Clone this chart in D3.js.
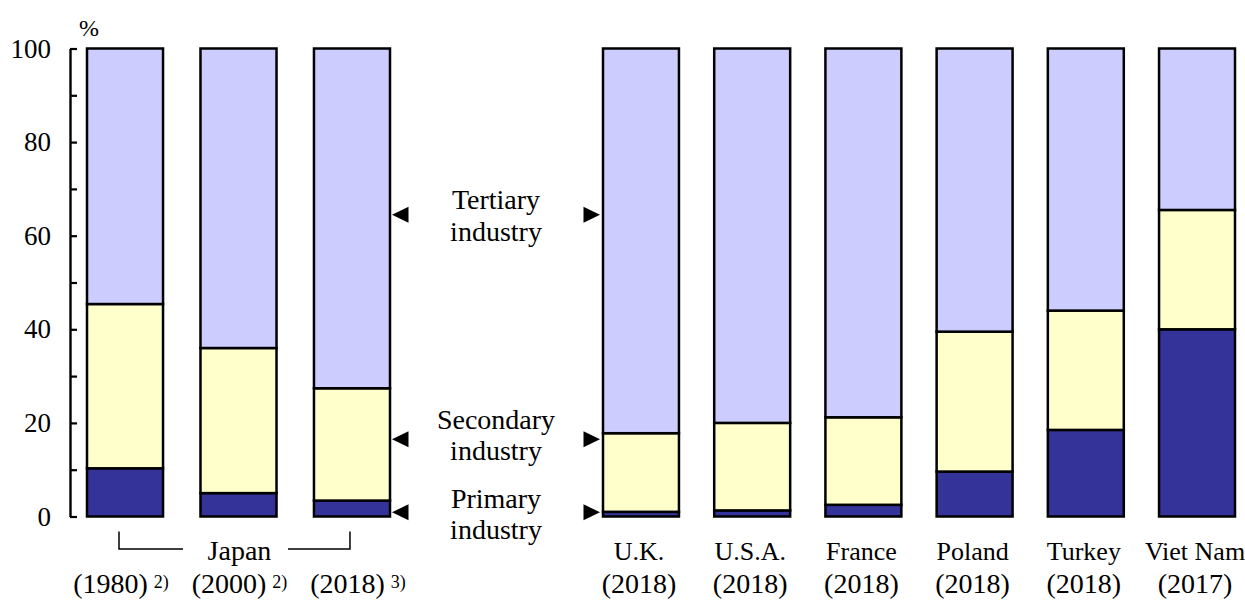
<!DOCTYPE html>
<html>
<head>
<meta charset="utf-8">
<script src="https://cdn.jsdelivr.net/npm/d3@7"></script>
<style>
  html, body { margin: 0; padding: 0; background: #fff; }
  svg { display: block; font-family: "Liberation Serif", "Times New Roman", serif; }
</style>
</head>
<body>
<script>
// Industry shares of employment (%), stacked: primary / secondary / tertiary
const japanYears = ["(1980)", "(2000)", "(2018)"];
const japanNotes = ["2)", "2)", "3)"];
const japanPrimary = [10.3, 5.0, 3.4];
const japanSecondary = [35.1, 31.0, 24.0];

const countryNames = ["U.K.", "U.S.A.", "France", "Poland", "Turkey", "Viet Nam"];
const countryYears = ["(2018)", "(2018)", "(2018)", "(2018)", "(2018)", "(2017)"];
const countryPrimary = [1.0, 1.3, 2.5, 9.6, 18.5, 40.0];
const countrySecondary = [16.8, 18.7, 18.7, 29.9, 25.5, 25.5];

const yTicks = [0, 10, 20, 30, 40, 50, 60, 70, 80, 90, 100];

const sectorKeys = ["primary", "secondary", "tertiary"];
const sectorLabels = [["Primary", "industry"], ["Secondary", "industry"], ["Tertiary", "industry"]];
const sectorMarks = [0.9, 16.5, 64.5]; // level each pointer indicates

const colors = { primary: "#333399", secondary: "#FFFFCC", tertiary: "#CCCCFF" };

const W = 1245, H = 601;
const svg = d3.select("body").append("svg").attr("width", W).attr("height", H);

const y = d3.scaleLinear().domain([0, 100]).range([516.5, 48.5]);
const xJ = d3.scaleBand().domain(japanYears).range([87, 390]).paddingInner(0.33);
const xC = d3.scaleBand().domain(countryNames).range([603, 1235]).paddingInner(0.317);

function rows(keys, prim, sec) {
  return keys.map((k, i) => ({
    key: k,
    primary: prim[i],
    secondary: sec[i],
    tertiary: 100 - prim[i] - sec[i]
  }));
}

const stack = d3.stack().keys(sectorKeys);

function drawBars(data, x) {
  const layers = stack(data);
  const g = svg.append("g");
  layers.forEach(layer => {
    g.selectAll(null)
      .data(layer)
      .join("rect")
      .attr("x", d => x(d.data.key))
      .attr("width", x.bandwidth())
      .attr("y", d => y(d[1]))
      .attr("height", d => y(d[0]) - y(d[1]))
      .attr("fill", colors[layer.key])
      .attr("stroke", "#000")
      .attr("stroke-width", 2.5);
  });
}

drawBars(rows(japanYears, japanPrimary, japanSecondary), xJ);
drawBars(rows(countryNames, countryPrimary, countrySecondary), xC);

// Y axis
const axis = d3.axisLeft(y)
  .tickValues(yTicks)
  .tickSizeInner(-7)
  .tickSizeOuter(0)
  .tickPadding(19)
  .tickFormat(d => d % 20 === 0 ? d : "");
const ag = svg.append("g").attr("transform", "translate(70,0)").call(axis);
ag.select(".domain").attr("stroke", "#000").attr("stroke-width", 2.4);
ag.selectAll(".tick line").attr("stroke", "#000").attr("stroke-width", 2.2);
ag.selectAll(".tick text")
  .attr("fill", "#000")
  .style("font-family", "'Liberation Serif', 'Times New Roman', serif")
  .style("font-size", "27px");

svg.append("text")
  .attr("x", 79).attr("y", 36)
  .style("font-size", "24px")
  .text("%");

// Japan year labels with footnote marks
const labelJ = d3.scalePoint().domain(japanYears).range([121, 358]);
japanYears.forEach((yr, i) => {
  const t = svg.append("text")
    .attr("x", labelJ(yr))
    .attr("y", 593)
    .attr("text-anchor", "middle")
    .style("font-size", "28px");
  t.append("tspan").text(yr);
  t.append("tspan").attr("dx", 6).attr("dy", -5).style("font-size", "18px").text(japanNotes[i]);
});

// Japan group label with bracket
const bx0 = xJ(japanYears[0]) + 32;
const bx1 = xJ(japanYears[2]) + 36;
const by0 = 531.5, by1 = 549;
const bl = d3.path();
bl.moveTo(bx0, by0); bl.lineTo(bx0, by1); bl.lineTo(183, by1);
bl.moveTo(288, by1); bl.lineTo(bx1, by1); bl.lineTo(bx1, by0);
svg.append("path").attr("d", bl.toString())
  .attr("fill", "none").attr("stroke", "#000").attr("stroke-width", 1.5);
svg.append("text")
  .attr("x", 239.5).attr("y", 560)
  .attr("text-anchor", "middle")
  .style("font-size", "28px")
  .text("Japan");

// Country labels
countryNames.forEach((c, i) => {
  const cx = xC(c) + xC.bandwidth() / 2 - 2;
  svg.append("text").attr("x", cx).attr("y", 560)
    .attr("text-anchor", "middle").style("font-size", "26px").text(c);
  svg.append("text").attr("x", cx).attr("y", 593)
    .attr("text-anchor", "middle").style("font-size", "28px").text(countryYears[i]);
});

// Sector pointers and labels between the two groups
const tri = d3.line();
const leftTip = 392, rightTip = 600, triW = 16.5, triH = 16;
const textOffsets = [[-4, 27], [-10, 21], [-5.5, 26]];
sectorMarks.forEach((v, i) => {
  const cy = y(v);
  svg.append("path")
    .attr("d", tri([[leftTip, cy], [leftTip + triW, cy - triH / 2], [leftTip + triW, cy + triH / 2]]) + "Z")
    .attr("fill", "#000");
  svg.append("path")
    .attr("d", tri([[rightTip, cy], [rightTip - triW, cy - triH / 2], [rightTip - triW, cy + triH / 2]]) + "Z")
    .attr("fill", "#000");
  sectorLabels[i].forEach((line, j) => {
    svg.append("text")
      .attr("x", 496)
      .attr("y", cy + textOffsets[i][j])
      .attr("text-anchor", "middle")
      .style("font-size", "28px")
      .text(line);
  });
});
</script>
</body>
</html>
